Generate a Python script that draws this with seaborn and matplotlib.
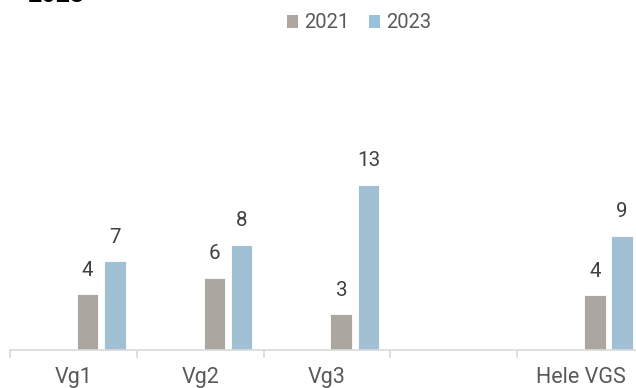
import numpy as np
import pandas as pd
import seaborn as sns
import matplotlib.pyplot as plt
from matplotlib.patches import Patch

# Share per level (percent), 2021 vs 2023
categories = ["Vg1", "Vg2", "Vg3", " ", "Hele VGS"]
years = ["2021", "2023"]
share_2021 = [4.4, 5.7, 2.8, np.nan, 4.3]
share_2023 = [7.0, 8.3, 13.0, np.nan, 9.0]

colors = {"2021": "#AEA69F", "2023": "#98C2DC"}

df = pd.DataFrame({
    "niva": categories * 2,
    "aar": [years[0]] * len(categories) + [years[1]] * len(categories),
    "andel": share_2021 + share_2023,
})

sns.set_theme(style="white")
plt.rcParams["font.family"] = ["Roboto", "DejaVu Sans"]

W, H = 636, 388
fig = plt.figure(figsize=(W / 100, H / 100), dpi=100)

# axes geometry in pixels
left_px, base_px, top_px = 10, 350, 60
cat_px = 126.8
ax = fig.add_axes([left_px / W, (H - base_px) / H, (W - left_px) / W, (base_px - top_px) / H])

sns.barplot(data=df, x="niva", y="andel", hue="aar", order=categories,
            hue_order=years, palette=colors, width=0.43, gap=0.21,
            dodge=True, edgecolor="white", linewidth=0.6, legend=False, ax=ax)

for cont in ax.containers:
    ax.bar_label(cont, fmt="%.0f", padding=10.5, fontsize=14.8, color="#404040")

# category spans are offset from the bar pairs
shift = 0.22
start = -0.5 - shift
n = len(categories)
ax.set_xticks([start + i for i in range(n + 1)])
ax.set_xticklabels([])
ax.set_xticks([i - shift for i in range(n)], minor=True)
ax.set_xticklabels(categories, minor=True, fontsize=15.5, color="#595959")
ax.tick_params(axis="x", which="major", length=6, width=1.2, color="#D9D9D9",
               direction="out", bottom=True)
ax.tick_params(axis="x", which="minor", length=0, pad=12.5)
ax.set_yticks([])
ax.set_xlabel("")
ax.set_ylabel("")

ax.set_xlim(start, start + (W - left_px) / cat_px)
ax.set_ylim(0, (base_px - top_px) / 12.7)

for s in ["left", "right", "top"]:
    ax.spines[s].set_visible(False)
ax.spines["bottom"].set_color("#D9D9D9")
ax.spines["bottom"].set_linewidth(1.2)

handles = [Patch(facecolor=colors[y], edgecolor="none", label=y) for y in years]
fig.legend(handles=handles, loc="center", bbox_to_anchor=(359 / W, 1 - 23 / H),
           ncol=2, frameon=False, fontsize=14.5, labelcolor="#595959",
           handlelength=0.58, handleheight=0.58, handletextpad=0.3,
           columnspacing=0.95)

fig.text(27 / W, 1 - 2 / H, "2023", fontsize=18, fontweight="bold",
         color="#000000", va="baseline", ha="left")

fig.savefig("out.png", dpi=100)
